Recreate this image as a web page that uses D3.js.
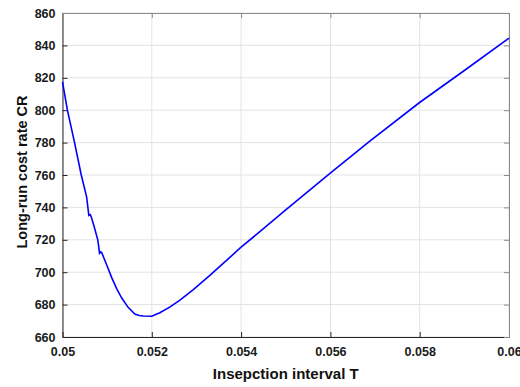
<!DOCTYPE html>
<html>
<head>
<meta charset="utf-8">
<script src="https://cdn.jsdelivr.net/npm/d3@7"></script>
<style>
  body { margin: 0; background: #fff; overflow: hidden; }
  text { font-family: "Liberation Sans", Arial, sans-serif; }
</style>
</head>
<body>
<div id="chart"></div>
<script>
// inspection interval T and long-run cost rate CR
var tValues = [0.0500, 0.05011, 0.05027, 0.05042, 0.05054, 0.05059, 0.05062, 0.05064,
  0.05071, 0.05079, 0.05083, 0.05086, 0.05088, 0.05099, 0.0511, 0.05121, 0.05133,
  0.05147, 0.05162, 0.05172, 0.05181, 0.0520, 0.05211, 0.05218, 0.05241, 0.05263,
  0.05293, 0.0533, 0.05368, 0.05398, 0.05442, 0.055, 0.05599, 0.05689, 0.05799,
  0.059, 0.06];
var crValues = [817.5, 800, 780, 760, 746.5, 735, 735.5, 734.5,
  728, 720, 711.7, 712.5, 712, 704.4, 696.8, 690, 683.9,
  678.3, 674.2, 673.3, 673, 672.8, 674.2, 675, 678.6, 682.8,
  689.3, 698, 707.4, 715, 725, 738.5, 761, 781, 804.6,
  824.5, 844.5];
var xTicks = [0.05, 0.052, 0.054, 0.056, 0.058, 0.06];
var xTickLabels = ["0.05", "0.052", "0.054", "0.056", "0.058", "0.06"];
var yTicks = [660, 680, 700, 720, 740, 760, 780, 800, 820, 840, 860];

var width = 520, height = 387;
var plotLeft = 62.5, plotRight = 509, plotTop = 13, plotBottom = 337;

var svg = d3.select("#chart").append("svg")
  .attr("width", width)
  .attr("height", height);

var x = d3.scaleLinear().domain([0.05, 0.06]).range([plotLeft, plotRight]);
var y = d3.scaleLinear().domain([660, 860]).range([plotBottom, plotTop]);

// grid
var grid = svg.append("g");
grid.selectAll("line.gx")
  .data(xTicks)
  .enter().append("line")
  .attr("x1", function(d){ return x(d); })
  .attr("x2", function(d){ return x(d); })
  .attr("y1", plotTop).attr("y2", plotBottom)
  .attr("stroke", "#e3e3e3").attr("stroke-width", 1);
grid.selectAll("line.gy")
  .data(yTicks)
  .enter().append("line")
  .attr("y1", function(d){ return y(d); })
  .attr("y2", function(d){ return y(d); })
  .attr("x1", plotLeft).attr("x2", plotRight)
  .attr("stroke", "#e3e3e3").attr("stroke-width", 1);

// axes with inward ticks
var axisColor = "#262626";
var xAxis = svg.append("g")
  .attr("transform", "translate(0," + plotBottom + ")")
  .call(d3.axisBottom(x).tickValues(xTicks).tickSizeInner(-5).tickSizeOuter(0)
    .tickPadding(10).tickFormat(function(d, i){ return xTickLabels[i]; }));
var yAxis = svg.append("g")
  .attr("transform", "translate(" + plotLeft + ",0)")
  .call(d3.axisLeft(y).tickValues(yTicks).tickSizeInner(-5).tickSizeOuter(0)
    .tickPadding(7).tickFormat(d3.format("d")));
var xTop = svg.append("g")
  .attr("transform", "translate(0," + plotTop + ")")
  .call(d3.axisTop(x).tickValues(xTicks).tickSizeInner(-5).tickSizeOuter(0).tickFormat(""));
var yRight = svg.append("g")
  .attr("transform", "translate(" + plotRight + ",0)")
  .call(d3.axisRight(y).tickValues(yTicks).tickSizeInner(-5).tickSizeOuter(0).tickFormat(""));

[xAxis, yAxis, xTop, yRight].forEach(function(g){
  g.selectAll("path.domain").attr("stroke", axisColor);
  g.selectAll(".tick line").attr("stroke", axisColor);
  g.selectAll(".tick text")
    .attr("fill", "#1a1a1a")
    .style("font-size", "12.5px")
    .style("font-weight", "bold");
});
xTop.selectAll("path.domain, .tick line").attr("stroke", "#8a8a8a");
yRight.selectAll("path.domain, .tick line").attr("stroke", "#8a8a8a");

// curve
var pts = tValues.map(function(t, i){ return [t, crValues[i]]; });
svg.append("path")
  .datum(pts)
  .attr("fill", "none")
  .attr("stroke", "#0000ff")
  .attr("stroke-width", 1.6)
  .attr("d", d3.line()
    .x(function(d){ return x(d[0]); })
    .y(function(d){ return y(d[1]); }));

// labels
svg.append("text")
  .attr("x", (plotLeft + plotRight) / 2)
  .attr("y", 379)
  .attr("text-anchor", "middle")
  .style("font-size", "15px")
  .style("font-weight", "bold")
  .attr("fill", "#111")
  .text("Insepction interval T");

svg.append("text")
  .attr("transform", "translate(27," + ((plotTop + plotBottom) / 2 - 3) + ") rotate(-90)")
  .attr("text-anchor", "middle")
  .style("font-size", "14.5px")
  .style("font-weight", "bold")
  .attr("fill", "#111")
  .text("Long-run cost rate CR");
</script>
</body>
</html>
